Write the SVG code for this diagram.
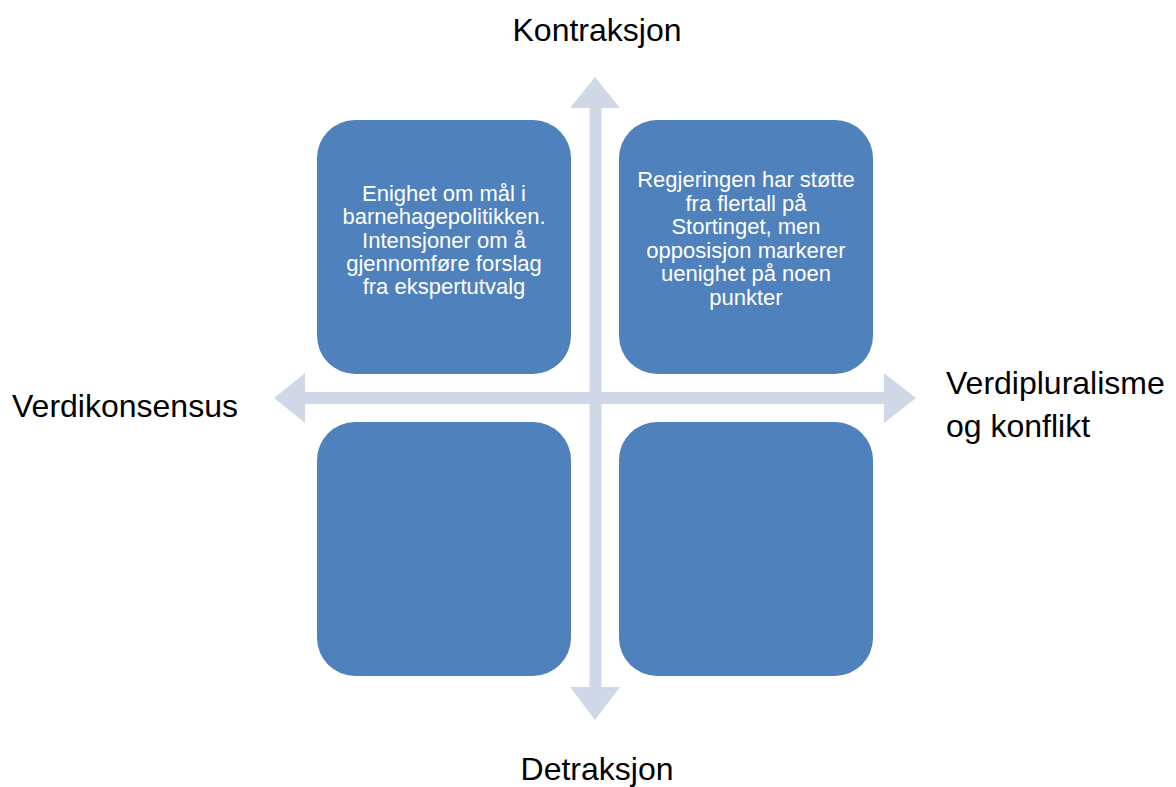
<svg xmlns="http://www.w3.org/2000/svg" width="1176" height="787" viewBox="0 0 1176 787">
  <style>
    .box { fill: #4F81BD; }
    .arrow { fill: #D0D8E8; }
    .label { font-family: "Liberation Sans", Arial, sans-serif; font-size: 32px; fill: #000000; }
    .btext { font-family: "Liberation Sans", Arial, sans-serif; font-size: 22px; fill: #FFFFFF; text-anchor: middle; }
  </style>
  <rect width="1176" height="787" fill="#FFFFFF"/>
  <g id="connectors">
    <polygon class="arrow" points="274,398 305,373 305,392 884,392 884,373 916,398 884,423 884,404 305,404 305,423"/>
    <polygon class="arrow" points="595,77 620,108 601.5,108 601.5,687 620,687 595,720 570,687 589.5,687 589.5,108 570,108"/>
  </g>
  <g id="node-top-left">
    <rect class="box" x="317" y="120" width="254" height="254" rx="38" ry="38"/>
    <text class="btext" x="444" y="200.5">Enighet om mål i</text>
    <text class="btext" x="444" y="224">barnehagepolitikken.</text>
    <text class="btext" x="444" y="247.5">Intensjoner om å</text>
    <text class="btext" x="444" y="271">gjennomføre forslag</text>
    <text class="btext" x="444" y="294">fra ekspertutvalg</text>
  </g>
  <g id="node-top-right">
    <rect class="box" x="619" y="120" width="254" height="254" rx="38" ry="38"/>
    <text class="btext" x="746" y="187">Regjeringen har støtte</text>
    <text class="btext" x="746" y="210.5">fra flertall på</text>
    <text class="btext" x="746" y="234">Stortinget, men</text>
    <text class="btext" x="746" y="257.5">opposisjon markerer</text>
    <text class="btext" x="746" y="281">uenighet på noen</text>
    <text class="btext" x="746" y="304.5">punkter</text>
  </g>
  <g id="node-bottom-left">
    <rect class="box" x="317" y="422" width="254" height="254" rx="38" ry="38"/>
  </g>
  <g id="node-bottom-right">
    <rect class="box" x="619" y="422" width="254" height="254" rx="38" ry="38"/>
  </g>
  <g id="label-top">
    <text class="label" x="597" y="41" text-anchor="middle">Kontraksjon</text>
  </g>
  <g id="label-bottom">
    <text class="label" x="597" y="780" text-anchor="middle">Detraksjon</text>
  </g>
  <g id="label-left">
    <text class="label" x="12" y="416.5">Verdikonsensus</text>
  </g>
  <g id="label-right">
    <text class="label" x="946" y="394">Verdipluralisme</text>
    <text class="label" x="946" y="436.5">og konflikt</text>
  </g>
</svg>
